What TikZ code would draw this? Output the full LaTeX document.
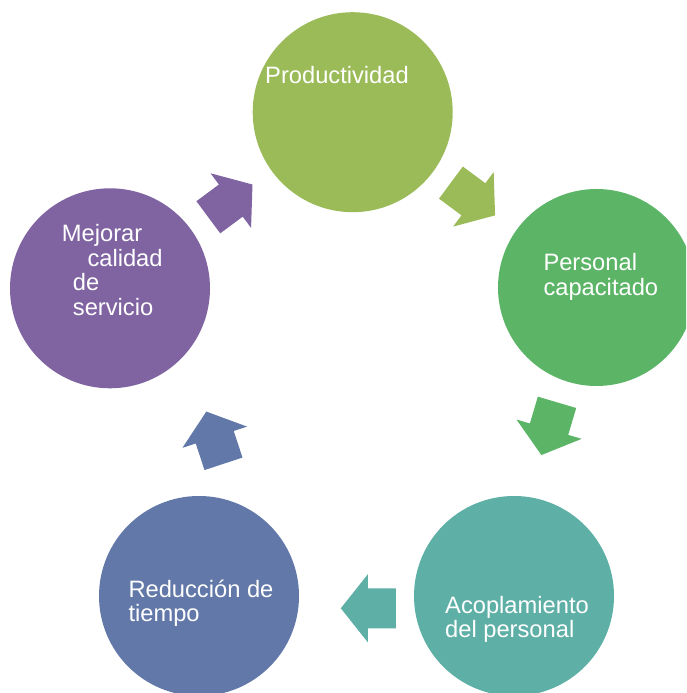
\documentclass[tikz,border=0pt]{standalone}
\usepackage{fontspec}
\setmainfont{Liberation Sans}

% Colour range from accent 3 (green) to accent 4 (purple)
\definecolor{cProd}{HTML}{9BBB59}
\definecolor{cPers}{HTML}{5CB566}
\definecolor{cAcop}{HTML}{5EAFA6}
\definecolor{cRedu}{HTML}{6178A8}
\definecolor{cMejo}{HTML}{8064A2}

\begin{document}
\begin{tikzpicture}[x=1pt,y=1pt,
  stage/.style={circle, minimum size=200pt, inner sep=0pt, draw=none},
  caption/.style={anchor=base west, inner sep=0pt, text=white,
    font=\fontsize{23.7}{24}\selectfont},
  blockarrow/.pic={
    \fill[pic actions] (-27.5pt,-20pt) -- (0.5pt,-20pt) -- (0.5pt,-34pt)
      -- (27.5pt,0pt) -- (0.5pt,34pt) -- (0.5pt,20pt) -- (-27.5pt,20pt) -- cycle;
  }]
\useasboundingbox (0,0) rectangle (686,693);
\clip (0,0) rectangle (686,693);

% the five stages of the cycle
\node[stage, fill=cProd] (prod) at (352.7,580.8) {};
\node[stage, fill=cPers, minimum size=197pt] (pers) at (596.5,405.5) {};
\node[stage, fill=cAcop] (acop) at (514,97) {};
\node[stage, fill=cRedu] (redu) at (199,97) {};
\node[stage, fill=cMejo] (mejo) at (110,404.7) {};

% stage captions
\node[caption] (prod-t) at (265,609.7) {Productividad};
\node[caption] (pers-t) at (543.3,422.3)
  {\begin{tabular}[t]{@{}l@{}}Personal\\capacitado\end{tabular}};
\node[caption] (acop-t) at (445,79.7)
  {\begin{tabular}[t]{@{}l@{}}Acoplamiento\\del personal\end{tabular}};
\node[caption] (redu-t) at (128.3,95.7)
  {\begin{tabular}[t]{@{}l@{}}Reducción de\\tiempo\end{tabular}};
\node[caption, font=\fontsize{23.7}{24.6}\selectfont] (mejo-t) at (61.7,451.3)
  {\begin{tabular}[t]{@{}l@{}}Mejorar\\\hspace*{25.6pt}calidad\\\hspace*{11pt}de\\\hspace*{11pt}servicio\end{tabular}};

% block arrows running clockwise round the cycle
\pic[fill=cProd, rotate=-36.6] (a-prod) at (473,494) {blockarrow};
\pic[fill=cPers, rotate=-106.5] (a-pers) at (549.2,264.3) {blockarrow};
\pic[fill=cAcop, rotate=180] (a-acop) at (368.3,84.7) {blockarrow};
\pic[fill=cRedu, rotate=108.2] (a-redu) at (214.9,255.3) {blockarrow};
\pic[fill=cMejo, rotate=36.6] (a-mejo) at (230.4,492.1) {blockarrow};
\end{tikzpicture}
\end{document}
